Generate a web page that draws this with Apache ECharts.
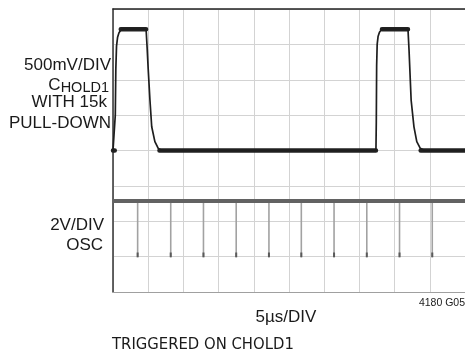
<!DOCTYPE html>
<html><head><meta charset="utf-8">
<script src="https://cdn.jsdelivr.net/npm/echarts@6/dist/echarts.min.js"></script>
<style>html,body{margin:0;padding:0;background:#fff}#c{width:465px;height:360px}</style>
</head><body><div id="c"></div>
<script>
// Time axis in divisions (5µs/DIV), vertical in divisions from bottom
const xTicks = [0,1,2,3,4,5,6,7,8,9,10];
const yTicks = [0,1,2,3,4,5,6,7,8];

// CHOLD1 trace (500mV/DIV)
const cholX = [0, 0.05, 0.065, 0.08, 0.10, 0.13, 0.17, 0.22, 0.30, 0.94, 0.97, 1.00, 1.05, 1.10, 1.19, 1.285, 1.38, 1.45,
               7.47, 7.48, 7.49, 7.505, 7.53, 7.57, 7.62, 7.70, 8.38, 8.41, 8.47, 8.55, 8.63, 8.73, 8.85, 10];
const cholY = [4.0, 4.0, 5.0, 6.3, 6.95, 7.2, 7.33, 7.40, 7.43, 7.43, 6.9, 6.3, 5.42, 4.67, 4.25, 4.06, 4.01, 4.0,
               4.0, 4.8, 6.4, 7.0, 7.22, 7.34, 7.41, 7.43, 7.43, 6.84, 5.42, 4.67, 4.25, 4.06, 4.0, 4.0];
// flat (noisy) parts of CHOLD1 drawn as a thicker band; null = gap
const bandX = [0, 0.05, null, 0.22, 0.94, null, 1.32, 7.47, null, 7.64, 8.38, null, 8.74, 10];
const bandY = [4.0, 4.0, null, 7.43, 7.43, null, 4.0, 4.0, null, 7.43, 7.43, null, 4.0, 4.0];

// OSC trace (2V/DIV)
const oscLevel = 2.57;
const spikeX = [0.70, 1.64, 2.57, 3.50, 4.43, 5.35, 6.28, 7.21, 8.14, 9.07];
const spikeBottom = 0.98;
const spikeTipTop = 1.12;

const chart = echarts.init(document.getElementById('c'), null, {renderer:'canvas'});

const toPairs = (xs, ys) => xs.map((x,i) => x === null ? ['-','-'] : [x, ys[i]]);
const spikeData = [];
const tipData = [];
spikeX.forEach(x => {
  spikeData.push([x, oscLevel], [x, spikeBottom], ['-','-']);
  tipData.push([x, spikeTipTop], [x, spikeBottom], ['-','-']);
});

const gridColor = '#d3d3d3';
const F = '"Liberation Sans", Arial, sans-serif';
const lab = '#1a1a1a';

function txt(text, x, y, size, align, family, rich) {
  const s = {text, x, y, fill: lab, font: size + 'px ' + (family || F), textAlign: align, textVerticalAlign: 'middle'};
  if (rich) { s.rich = rich; s.fontSize = size; s.fontFamily = family || F; }
  return {type:'text', silent:true, style: s};
}

chart.setOption({
  animation: false,
  grid: {left: 113, right: 0, top: 9, bottom: 68, show: false},
  xAxis: [
    {type:'value', min: xTicks[0], max: xTicks[xTicks.length-1], interval: 1,
     axisLine:{show:true, onZero:false, lineStyle:{color:'#a0a0a0', width:1}},
     axisTick:{show:false}, axisLabel:{show:false},
     splitLine:{show:true, lineStyle:{color:gridColor, width:1}}},
    {type:'value', position:'top', min: xTicks[0], max: xTicks[xTicks.length-1], interval: 1,
     axisLine:{show:true, onZero:false, lineStyle:{color:'#222', width:1.5}},
     axisTick:{show:false}, axisLabel:{show:false}, splitLine:{show:false}}
  ],
  yAxis: [
    {type:'value', min: yTicks[0], max: yTicks[yTicks.length-1], interval: 1,
     axisLine:{show:true, onZero:false, lineStyle:{color:'#333', width:1.5}},
     axisTick:{show:false}, axisLabel:{show:false},
     splitLine:{show:true, lineStyle:{color:gridColor, width:1}}}
  ],
  series: [
    {type:'line', data: spikeData, showSymbol:false, connectNulls:false, silent:true,
     lineStyle:{color:'#a2a2a2', width:1.6}},
    {type:'line', data: tipData, showSymbol:false, connectNulls:false, silent:true,
     lineStyle:{color:'#5a5a5a', width:2}},
    {type:'line', data: [[xTicks[0], oscLevel],[xTicks[xTicks.length-1], oscLevel]], showSymbol:false, silent:true,
     lineStyle:{color:'#626262', width:4}},
    {type:'line', data: toPairs(bandX, bandY), showSymbol:false, connectNulls:false, silent:true,
     lineStyle:{color:'#222', width:4.5, cap:'round'}},
    {type:'line', data: toPairs(cholX, cholY), showSymbol:false, silent:true,
     lineStyle:{color:'#1e1e1e', width:1.7}}
  ],
  graphic: [
    txt('500mV/DIV', 111, 65, 17, 'right'),
    txt('{c|C}{s|HOLD1}', 109, 85, 17, 'right', F,
        {c:{fontSize:17, fontFamily:F, fill:lab}, s:{fontSize:14.5, fontFamily:F, fill:lab, padding:[6,0,0,0]}}),
    txt('WITH 15k', 107, 102, 17, 'right'),
    txt('PULL-DOWN', 111, 123, 17, 'right'),
    txt('2V/DIV', 104, 225, 17, 'right'),
    txt('OSC', 103, 245.5, 17, 'right'),
    txt('5µs/DIV', 286, 317, 17, 'center'),
    txt('4180 G05', 465, 303, 10.5, 'right'),
    txt('TRIGGERED ON CHOLD1', 112, 345, 16.5, 'left', '"Liberation Sans Narrow", "DejaVu Sans Condensed", sans-serif')
  ]
});
</script>
</body></html>
